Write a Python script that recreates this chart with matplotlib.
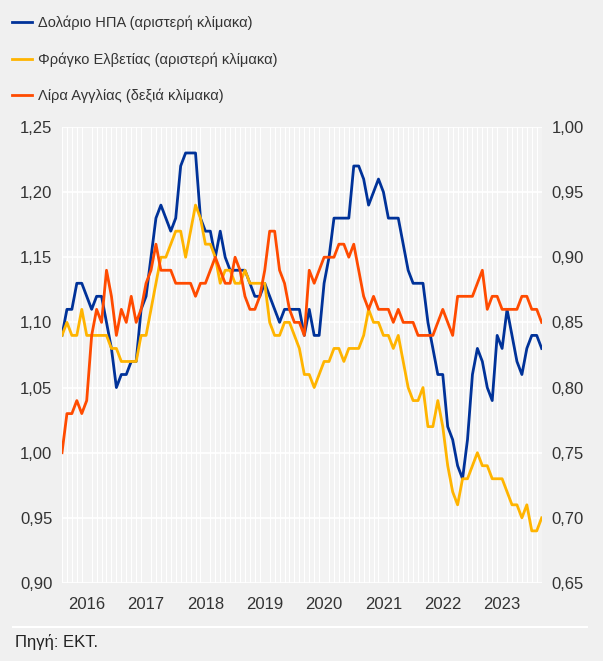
import matplotlib
matplotlib.use('Agg')
import matplotlib.pyplot as plt
import numpy as np
from matplotlib.ticker import FuncFormatter, FixedLocator, MultipleLocator

plt.rcParams['font.family'] = ['Liberation Sans', 'DejaVu Sans']

# monthly, Jan 2016 - Feb 2024
years = ['2016', '2017', '2018', '2019', '2020', '2021', '2022', '2023']

usd = [1.09, 1.11, 1.11, 1.13, 1.13, 1.12, 1.11, 1.12, 1.12, 1.10, 1.08, 1.05,
       1.06, 1.06, 1.07, 1.07, 1.11, 1.12, 1.15, 1.18, 1.19, 1.18, 1.17, 1.18,
       1.22, 1.23, 1.23, 1.23, 1.18, 1.17, 1.17, 1.15, 1.17, 1.15, 1.14, 1.14,
       1.14, 1.14, 1.13, 1.12, 1.12, 1.13, 1.12, 1.11, 1.10, 1.11, 1.11, 1.11,
       1.11, 1.09, 1.11, 1.09, 1.09, 1.13, 1.15, 1.18, 1.18, 1.18, 1.18, 1.22,
       1.22, 1.21, 1.19, 1.20, 1.21, 1.20, 1.18, 1.18, 1.18, 1.16, 1.14, 1.13,
       1.13, 1.13, 1.10, 1.08, 1.06, 1.06, 1.02, 1.01, 0.99, 0.98, 1.01, 1.06,
       1.08, 1.07, 1.05, 1.04, 1.09, 1.08, 1.11, 1.09, 1.07, 1.06, 1.08, 1.09,
       1.09, 1.08]

chf = [1.09, 1.10, 1.09, 1.09, 1.11, 1.09, 1.09, 1.09, 1.09, 1.09, 1.08, 1.08,
       1.07, 1.07, 1.07, 1.07, 1.09, 1.09, 1.11, 1.13, 1.15, 1.15, 1.16, 1.17,
       1.17, 1.15, 1.17, 1.19, 1.18, 1.16, 1.16, 1.15, 1.13, 1.14, 1.14, 1.13,
       1.13, 1.14, 1.13, 1.13, 1.13, 1.13, 1.10, 1.09, 1.09, 1.10, 1.10, 1.09,
       1.08, 1.06, 1.06, 1.05, 1.06, 1.07, 1.07, 1.08, 1.08, 1.07, 1.08, 1.08,
       1.08, 1.09, 1.11, 1.10, 1.10, 1.09, 1.09, 1.08, 1.09, 1.07, 1.05, 1.04,
       1.04, 1.05, 1.02, 1.02, 1.04, 1.02, 0.99, 0.97, 0.96, 0.98, 0.98, 0.99,
       1.00, 0.99, 0.99, 0.98, 0.98, 0.98, 0.97, 0.96, 0.96, 0.95, 0.96, 0.94,
       0.94, 0.95]

gbp = [0.75, 0.78, 0.78, 0.79, 0.78, 0.79, 0.84, 0.86, 0.85, 0.89, 0.87, 0.84,
       0.86, 0.85, 0.87, 0.85, 0.86, 0.88, 0.89, 0.91, 0.89, 0.89, 0.89, 0.88,
       0.88, 0.88, 0.88, 0.87, 0.88, 0.88, 0.89, 0.90, 0.89, 0.88, 0.88, 0.90,
       0.89, 0.87, 0.86, 0.86, 0.87, 0.89, 0.92, 0.92, 0.89, 0.88, 0.86, 0.85,
       0.85, 0.84, 0.89, 0.88, 0.89, 0.90, 0.90, 0.90, 0.91, 0.91, 0.90, 0.91,
       0.89, 0.87, 0.86, 0.87, 0.86, 0.86, 0.86, 0.85, 0.86, 0.85, 0.85, 0.85,
       0.84, 0.84, 0.84, 0.84, 0.85, 0.86, 0.85, 0.84, 0.87, 0.87, 0.87, 0.87,
       0.88, 0.89, 0.86, 0.87, 0.87, 0.86, 0.86, 0.86, 0.86, 0.87, 0.87, 0.86,
       0.86, 0.85]

labels = ['Δολάριο ΗΠΑ (αριστερή κλίμακα)',
          'Φράγκο Ελβετίας (αριστερή κλίμακα)',
          'Λίρα Αγγλίας (δεξιά κλίμακα)']
colors = ['#003299', '#ffb400', '#ff4b00']

x = np.arange(len(usd))
txt = '#333333'

fig = plt.figure(figsize=(6.03, 6.61), dpi=100, facecolor='#f0f0f0')
ax = fig.add_axes([0.1028, 0.118, 0.7955, 0.690])
ax.set_facecolor('#f3f3f3')

l1, = ax.plot(x, usd, color=colors[0], lw=2.0, zorder=3)
l2, = ax.plot(x, chf, color=colors[1], lw=2.0, zorder=3)

ax.set_xlim(0, len(usd) - 1)
ax.set_ylim(0.90, 1.25)
ax.yaxis.set_major_locator(MultipleLocator(0.05))
ax.xaxis.set_minor_locator(MultipleLocator(1))
ax.xaxis.set_major_locator(FixedLocator([12 * i + 5 for i in range(len(years))]))
ax.set_xticklabels(years)
ax.grid(axis='y', which='major', color='white', lw=1.3)
ax.grid(axis='x', which='minor', color='white', lw=0.8)
ax.set_axisbelow(True)

fmt = FuncFormatter(lambda v, p: f'{v:.2f}'.replace('.', ','))
ax.yaxis.set_major_formatter(fmt)
ax.tick_params(axis='both', which='both', length=0, labelsize=12, colors=txt)
ax.tick_params(axis='x', pad=10)
ax.tick_params(axis='y', pad=7)
for s in ax.spines.values():
    s.set_visible(False)

ax2 = ax.twinx()
l3, = ax2.plot(x, gbp, color=colors[2], lw=2.0, zorder=3)
ax2.set_ylim(0.65, 1.00)
ax2.yaxis.set_major_locator(MultipleLocator(0.05))
ax2.yaxis.set_major_formatter(fmt)
ax2.tick_params(axis='y', length=0, labelsize=12, colors=txt, pad=7)
for s in ax2.spines.values():
    s.set_visible(False)

fig.legend([l1, l2, l3], labels, loc='upper left',
           bbox_to_anchor=(12 / 603, 1 - 16 / 661), frameon=False,
           fontsize=10.5, handlelength=1.4, handletextpad=0.4,
           labelspacing=1.5, borderpad=0, borderaxespad=0,
           labelcolor=txt)

fig.add_artist(plt.Line2D([13 / 603, 587 / 603], [1 - 627 / 661, 1 - 627 / 661],
                          color='white', lw=1.5, transform=fig.transFigure))
fig.text(15 / 603, 1 - 642 / 661, 'Πηγή: ΕΚΤ.', fontsize=12, color='#222222',
         va='center', ha='left')

fig.savefig('out.png', dpi=100, facecolor=fig.get_facecolor())
